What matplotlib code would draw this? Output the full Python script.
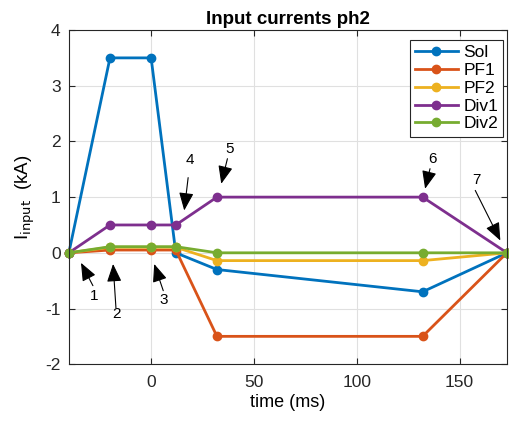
import matplotlib.pyplot as plt
import numpy as np

plt.rcParams['font.family'] = ['Liberation Sans', 'DejaVu Sans']
plt.rcParams['axes.unicode_minus'] = False

t = [-40, -20, 0, 12, 32, 132, 173]
sol = [0, 3.5, 3.5, 0, -0.3, -0.7, 0]
pf1 = [0, 0.05, 0.05, 0.05, -1.5, -1.5, 0]
pf2 = [0, 0.1, 0.1, 0.1, -0.14, -0.14, 0]
div1 = [0, 0.5, 0.5, 0.5, 1, 1, 0]
div2 = [0, 0.11, 0.11, 0.11, 0, 0, 0]
names = ['Sol', 'PF1', 'PF2', 'Div1', 'Div2']
colors = ['#0072BD', '#D95319', '#EDB120', '#7E2F8E', '#77AC30']

# arrow labels: (text pos, arrow tail, arrow head) in data coords
labels = ['1', '2', '3', '4', '5', '6', '7']
txt_pos = [(-27.8, -0.77), (-16.6, -1.1), (6.3, -0.85), (19, 1.66),
           (38, 1.87), (137, 1.68), (158, 1.3)]
tails = [(-28.3, -0.59), (-17.1, -0.99), (5.9, -0.68), (18, 1.35),
         (37.1, 1.69), (135.6, 1.51), (157.6, 1.12)]
heads = [(-34.1, -0.18), (-18.5, -0.2), (1.5, -0.2), (16.1, 0.76),
         (34.1, 1.24), (133.2, 1.15), (169.8, 0.22)]

fig = plt.figure(figsize=(5.10, 4.23), dpi=100)
ax = fig.add_axes([0.135, 0.139, 0.859, 0.790])

for y, n, c in zip([sol, pf1, pf2, div1, div2], names, colors):
    ax.plot(t, y, '-o', color=c, lw=2, ms=6, label=n, clip_on=False)

for lab, tp, tl, hd in zip(labels, txt_pos, tails, heads):
    ax.annotate('', xy=hd, xytext=tl,
                arrowprops=dict(arrowstyle='-|>,head_length=1.1,head_width=0.45',
                                color='k', lw=0.8, shrinkA=0, shrinkB=0))
    ax.text(tp[0], tp[1], lab, ha='center', va='center', fontsize=11)

ax.set_xlim(-40, 173)
ax.set_ylim(-2, 4)
ax.set_xticks([0, 50, 100, 150])
ax.set_yticks(np.arange(-2, 5, 1))
ax.grid(True, color='#e0e0e0', lw=0.8)
ax.set_axisbelow(True)
ax.tick_params(direction='in', top=True, right=True, labelsize=12.5,
               length=4, colors='#262626')
ax.tick_params(axis='x', pad=8)
ax.tick_params(axis='y', pad=6)
for s in ax.spines.values():
    s.set_color('#262626')
ax.set_title('Input currents ph2', fontsize=13.5, fontweight='bold', pad=4)
ax.set_xlabel('time (ms)', fontsize=13, labelpad=3)
ax.set_ylabel(r'I$_{\rm input}$  (kA)', fontsize=13.5, labelpad=6)

leg = ax.legend(loc='upper right', fontsize=12.5, fancybox=False, framealpha=1,
                edgecolor='#262626', handlelength=2.5, borderpad=0.3,
                labelspacing=0.15, handletextpad=0.3, borderaxespad=0,
                bbox_to_anchor=(0.992, 0.97))
leg.get_frame().set_linewidth(0.8)

fig.savefig('out.png', dpi=100)
